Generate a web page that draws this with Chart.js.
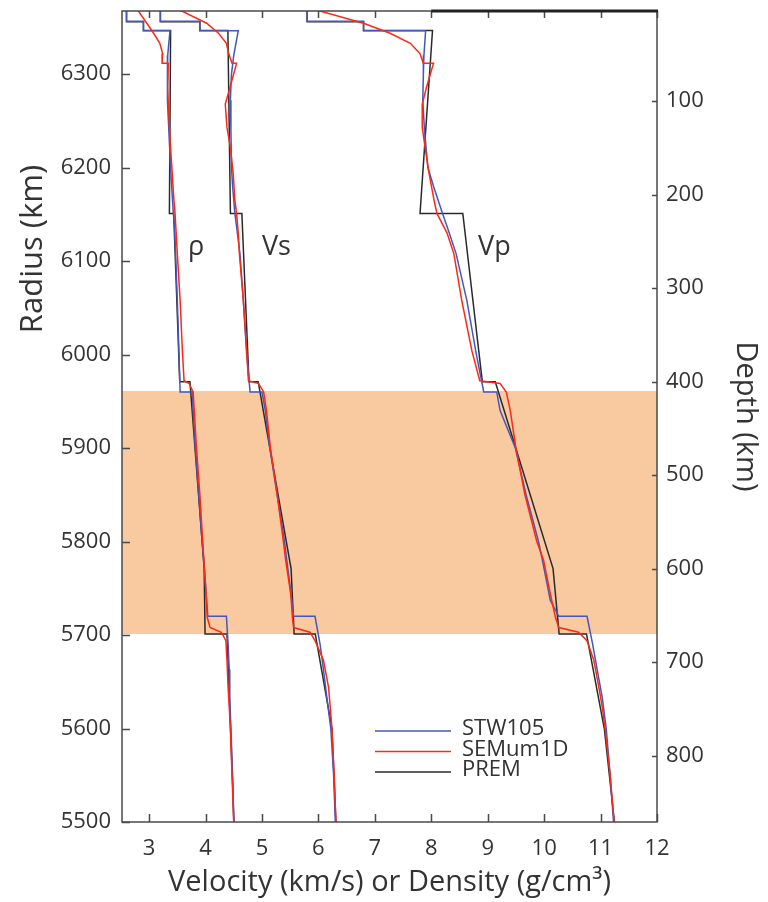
<!DOCTYPE html>
<html>
<head>
<meta charset="utf-8">
<script src="https://cdn.jsdelivr.net/npm/chart.js@4.4.1/dist/chart.umd.min.js"></script>
<style>
  body { margin: 0; background: #fff; }
</style>
</head>
<body>
<canvas id="profileChart" width="768" height="902"></canvas>
<script>
// STW105 (radius in km, rho in g/cm3, Vs and Vp in km/s)
const stwRadius = [6371, 6356.6, 6356.6, 6346.4, 6346.4, 6320, 6300, 6272, 6240, 6200, 6180, 6151, 6137, 6108, 6058, 6000, 5960, 5960, 5940, 5900, 5850, 5800, 5780, 5737, 5720, 5720, 5690, 5663, 5633, 5600, 5550, 5500];
const stwRho = [2.60, 2.60, 2.90, 2.90, 3.37, 3.33, 3.32, 3.33, 3.35, 3.38, 3.40, 3.43, 3.45, 3.47, 3.50, 3.53, 3.55, 3.77, 3.78, 3.82, 3.88, 3.94, 3.97, 4.02, 4.04, 4.37, 4.40, 4.42, 4.43, 4.45, 4.48, 4.50];
const stwVs = [3.20, 3.20, 3.90, 3.90, 4.58, 4.50, 4.46, 4.44, 4.45, 4.46, 4.48, 4.52, 4.55, 4.61, 4.67, 4.73, 4.79, 5.00, 5.06, 5.14, 5.27, 5.40, 5.44, 5.53, 5.56, 5.94, 6.03, 6.09, 6.15, 6.22, 6.27, 6.30];
const stwVp = [5.80, 5.80, 6.80, 6.80, 7.90, 7.87, 7.86, 7.85, 7.88, 7.94, 8.04, 8.20, 8.28, 8.44, 8.63, 8.80, 8.93, 9.16, 9.22, 9.49, 9.68, 9.90, 9.97, 10.11, 10.26, 10.76, 10.86, 10.94, 11.03, 11.10, 11.17, 11.23];

// SEMum1D
const semRadius = [6371, 6354.4, 6343.7, 6333, 6322, 6311.5, 6311.5, 6287, 6268, 6243, 6222, 6194, 6165, 6151, 6130, 6108, 6058, 6004, 5972, 5969, 5960, 5940, 5900, 5850, 5800, 5780, 5744, 5719, 5708, 5703, 5694, 5673, 5644, 5623, 5600, 5550, 5500];
const semRho = [2.77, 2.96, 3.08, 3.19, 3.24, 3.23, 3.34, 3.33, 3.34, 3.36, 3.38, 3.41, 3.44, 3.46, 3.48, 3.50, 3.55, 3.59, 3.62, 3.71, 3.78, 3.80, 3.84, 3.90, 3.95, 3.97, 4.01, 4.03, 4.08, 4.28, 4.36, 4.38, 4.40, 4.42, 4.44, 4.47, 4.50];
const semVs = [3.46, 4.02, 4.23, 4.37, 4.41, 4.47, 4.55, 4.44, 4.35, 4.38, 4.44, 4.49, 4.52, 4.55, 4.58, 4.60, 4.67, 4.73, 4.76, 4.94, 5.03, 5.08, 5.15, 5.27, 5.38, 5.42, 5.51, 5.54, 5.56, 5.85, 5.94, 6.09, 6.18, 6.21, 6.24, 6.28, 6.31];
const semVp = [5.82, 6.80, 7.27, 7.63, 7.80, 7.86, 8.04, 7.92, 7.84, 7.84, 7.89, 7.96, 8.05, 8.10, 8.28, 8.40, 8.54, 8.72, 8.86, 9.22, 9.33, 9.40, 9.50, 9.66, 9.87, 9.99, 10.11, 10.20, 10.26, 10.61, 10.76, 10.88, 10.97, 11.03, 11.08, 11.17, 11.24];

// PREM
const premRadius = [6371, 6356, 6356, 6346.6, 6346.6, 6151, 6151, 5971, 5971, 5771, 5701, 5701, 5650, 5600, 5550, 5500];
const premRho = [2.60, 2.60, 2.90, 2.90, 3.381, 3.360, 3.436, 3.543, 3.724, 3.976, 3.992, 4.381, 4.412, 4.443, 4.474, 4.504];
const premVs = [3.20, 3.20, 3.90, 3.90, 4.396, 4.441, 4.644, 4.770, 4.933, 5.516, 5.570, 5.945, 6.094, 6.240, 6.276, 6.311];
const premVp = [5.80, 5.80, 6.80, 6.80, 8.022, 7.801, 8.559, 8.905, 9.134, 10.158, 10.266, 10.751, 10.910, 11.066, 11.156, 11.245];

const velocityTicks = [3, 4, 5, 6, 7, 8, 9, 10, 11, 12];
const radiusTicks = [5500, 5600, 5700, 5800, 5900, 6000, 6100, 6200, 6300];
const depthTicks = [100, 200, 300, 400, 500, 600, 700, 800];
const transitionZone = [5961, 5701];
const curveNames = ['ρ', 'Vs', 'Vp'];
const curveNameX = [3.69, 5.0, 8.83];
const curveNameRadius = 6106;

const earthRadius = 6371;
const radiusTop = 6367.5;
const radiusBottom = 5500;

const fontFamily = "'Open Sans', sans-serif";
const textColor = '#333';

// one dataset per model, the three profiles split by gaps
function profile(radius, rho, vs, vp) {
    let pts = [];
    [rho, vs, vp].forEach((vals, k) => {
        if (k > 0) pts.push({x: null, y: null});
        vals.forEach((v, i) => pts.push({x: v, y: radius[i]}));
    });
    return pts;
}

const bandPlugin = {
    id: 'band',
    beforeDatasetsDraw(chart) {
        const {ctx, chartArea: a, scales: {y}} = chart;
        const top = y.getPixelForValue(transitionZone[0]);
        const bottom = y.getPixelForValue(transitionZone[1]);
        ctx.save();
        ctx.fillStyle = '#f9c9a0';
        ctx.fillRect(a.left, top, a.right - a.left, bottom - top);
        ctx.restore();
    }
};

const framePlugin = {
    id: 'frame',
    afterDatasetsDraw(chart) {
        const {ctx, chartArea: a, scales} = chart;
        ctx.save();
        ctx.strokeStyle = '#4a4a4a';
        ctx.lineWidth = 1.5;
        ctx.strokeRect(a.left, a.top, a.right - a.left, a.bottom - a.top);
        ctx.beginPath();
        scales.x.ticks.forEach(t => {
            const px = Math.round(scales.x.getPixelForValue(t.value)) + 0.5;
            ctx.moveTo(px, a.bottom); ctx.lineTo(px, a.bottom - 8);
            ctx.moveTo(px, a.top); ctx.lineTo(px, a.top + 7);
        });
        scales.y.ticks.forEach(t => {
            const py = Math.round(scales.y.getPixelForValue(t.value)) + 0.5;
            ctx.moveTo(a.left, py); ctx.lineTo(a.left + 8, py);
        });
        scales.depth.ticks.forEach(t => {
            const py = Math.round(scales.depth.getPixelForValue(t.value)) + 0.5;
            ctx.moveTo(a.right, py); ctx.lineTo(a.right - 5, py);
        });
        ctx.stroke();
        // darker stretch of the top edge
        ctx.strokeStyle = '#222';
        ctx.lineWidth = 3;
        ctx.beginPath();
        ctx.moveTo(scales.x.getPixelForValue(8), a.top);
        ctx.lineTo(a.right + 1, a.top);
        ctx.stroke();
        ctx.restore();
    }
};

const labelPlugin = {
    id: 'curveLabels',
    afterDraw(chart) {
        const {ctx, scales} = chart;
        ctx.save();
        ctx.fillStyle = textColor;
        ctx.font = '27px ' + fontFamily;
        ctx.textBaseline = 'alphabetic';
        ctx.textAlign = 'left';
        curveNames.forEach((name, i) => {
            ctx.fillText(name, scales.x.getPixelForValue(curveNameX[i]), scales.y.getPixelForValue(curveNameRadius));
        });
        // left axis title, sits above the middle like in the figure
        ctx.font = '31px ' + fontFamily;
        ctx.translate(33, 249);
        ctx.rotate(-Math.PI / 2);
        ctx.textAlign = 'center';
        ctx.textBaseline = 'middle';
        ctx.fillText('Radius (km)', 0, 0);
        ctx.restore();
    }
};

const legendPlugin = {
    id: 'innerLegend',
    afterDraw(chart) {
        const {ctx} = chart;
        ctx.save();
        ctx.font = '22px ' + fontFamily;
        ctx.textBaseline = 'middle';
        chart.data.datasets.forEach((ds, i) => {
            const yy = 731 + i * 20.5;
            ctx.strokeStyle = ds.borderColor;
            ctx.lineWidth = 1.5;
            ctx.beginPath();
            ctx.moveTo(375, yy); ctx.lineTo(451, yy);
            ctx.stroke();
            ctx.fillStyle = textColor;
            ctx.fillText(ds.label, 462, yy - 2);
        });
        ctx.restore();
    }
};

const tickFont = {family: fontFamily, size: 22};
const titleFont = {family: fontFamily, size: 29};
const plainTick = v => String(v);

const ctx = document.getElementById('profileChart');
new Chart(ctx, {
    type: 'scatter',
    data: {
        datasets: [{
            label: 'STW105',
            data: profile(stwRadius, stwRho, stwVs, stwVp),
            borderColor: 'rgb(70, 86, 188)',
            order: 1
        }, {
            label: 'SEMum1D',
            data: profile(semRadius, semRho, semVs, semVp),
            borderColor: 'rgb(255, 40, 20)',
            order: 0
        }, {
            label: 'PREM',
            data: profile(premRadius, premRho, premVs, premVp),
            borderColor: '#2a2a2a',
            order: 2
        }]
    },
    options: {
        responsive: false,
        animation: false,
        devicePixelRatio: 1,
        showLine: true,
        spanGaps: false,
        elements: {
            point: {radius: 0},
            line: {borderWidth: 1.5, tension: 0}
        },
        layout: {padding: {top: 11, left: 0, right: 0, bottom: 0}},
        plugins: {
            legend: {display: false},
            tooltip: {enabled: false}
        },
        scales: {
            x: {
                type: 'linear',
                min: 2.52,
                max: 12,
                afterBuildTicks: s => { s.ticks = velocityTicks.map(v => ({value: v})); },
                afterFit: s => { s.height = 80; s.paddingLeft = 0; s.paddingRight = 0; },
                grid: {display: false, drawTicks: false},
                border: {display: false},
                ticks: {font: tickFont, color: textColor, padding: 14, callback: plainTick},
                title: {
                    display: true,
                    text: 'Velocity (km/s) or Density (g/cm³)',
                    font: titleFont,
                    color: textColor,
                    padding: {top: 0, bottom: 2}
                }
            },
            y: {
                type: 'linear',
                position: 'left',
                min: radiusBottom,
                max: radiusTop,
                afterBuildTicks: s => { s.ticks = radiusTicks.map(v => ({value: v})); },
                afterFit: s => { s.width = 122; s.paddingTop = 0; s.paddingBottom = 0; },
                grid: {display: false, drawTicks: false},
                border: {display: false},
                ticks: {font: tickFont, color: textColor, padding: 11, callback: plainTick}
            },
            depth: {
                type: 'linear',
                position: 'right',
                reverse: true,
                min: earthRadius - radiusTop,
                max: earthRadius - radiusBottom,
                afterBuildTicks: s => { s.ticks = depthTicks.map(v => ({value: v})); },
                afterFit: s => { s.width = 111; s.paddingTop = 0; s.paddingBottom = 0; },
                grid: {display: false, drawTicks: false},
                border: {display: false},
                ticks: {font: tickFont, color: textColor, padding: 9, callback: plainTick},
                title: {
                    display: true,
                    text: 'Depth (km)',
                    font: titleFont,
                    color: textColor,
                    padding: {top: 5, bottom: 0}
                }
            }
        }
    },
    plugins: [bandPlugin, framePlugin, labelPlugin, legendPlugin]
});
</script>
</body>
</html>
